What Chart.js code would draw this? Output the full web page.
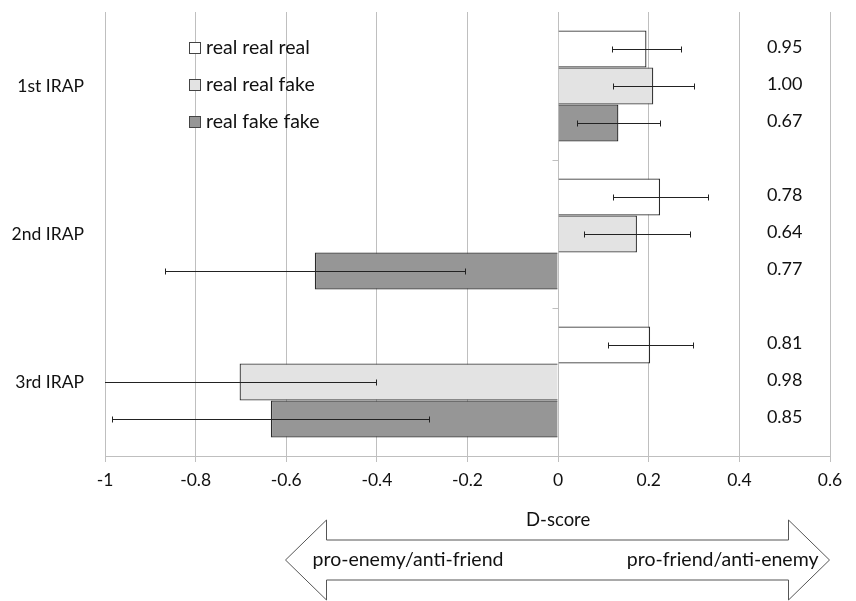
<!DOCTYPE html>
<html>
<head>
<meta charset="utf-8">
<script src="https://cdn.jsdelivr.net/npm/chart.js@4"></script>
<style>
  html, body { margin: 0; padding: 0; background: #fff; }
</style>
</head>
<body>
<canvas id="myChart" width="856" height="601"></canvas>
<script>
// categories and series
const categories = ["1st IRAP", "2nd IRAP", "3rd IRAP"];
const seriesNames = ["real real real", "real real fake", "real fake fake"];

// mean D-scores per IRAP
const realRealReal = [0.195, 0.225, 0.203];
const realRealFake = [0.21, 0.174, -0.703];
const realFakeFake = [0.133, -0.537, -0.634];

// error bar half widths
const errRealRealReal = [0.077, 0.105, 0.094];
const errRealRealFake = [0.089, 0.116, 0.3];
const errRealFakeFake = [0.092, 0.331, 0.35];

// values printed at the right, one per bar
const reliabilities = [
  ["0.95", "0.78", "0.81"],
  ["1.00", "0.64", "0.98"],
  ["0.67", "0.77", "0.85"],
];

const xTicks = [-1, -0.8, -0.6, -0.4, -0.2, 0, 0.2, 0.4, 0.6];
const axisTitle = "D-score";
const arrowLeftText = "pro-enemy/anti-friend";
const arrowRightText = "pro-friend/anti-enemy";

const FONT = "Lato";
const TEXT = "#111";

const extrasPlugin = {
  id: "extras",
  afterDatasetsDraw(chart) {
    const ctx = chart.ctx;
    const xs = chart.scales.x;
    const ys = chart.scales.y;
    const area = chart.chartArea;

    // error bars, clipped to the plot
    ctx.save();
    ctx.beginPath();
    ctx.rect(area.left, area.top, area.right - area.left, area.bottom - area.top);
    ctx.clip();
    ctx.strokeStyle = "#222";
    ctx.lineWidth = 1;
    chart.data.datasets.forEach((ds, i) => {
      const meta = chart.getDatasetMeta(i);
      meta.data.forEach((bar, j) => {
        const v = ds.data[j];
        const e = ds.errors[j];
        const x1 = Math.round(xs.getPixelForValue(v - e)) + 0.5;
        const x2 = Math.round(xs.getPixelForValue(v + e)) + 0.5;
        const y = Math.round(bar.y) + 0.5;
        ctx.beginPath();
        ctx.moveTo(x1, y);
        ctx.lineTo(x2, y);
        ctx.moveTo(x1, y - 3);
        ctx.lineTo(x1, y + 3);
        ctx.moveTo(x2, y - 3);
        ctx.lineTo(x2, y + 3);
        ctx.stroke();
      });
    });
    ctx.restore();

    // little category ticks on the zero line
    ctx.save();
    ctx.strokeStyle = "#bfbfbf";
    ctx.lineWidth = 1;
    const x0 = Math.round(xs.getPixelForValue(0)) + 0.5;
    for (let k = 1; k < categories.length; k++) {
      const yb = Math.round((ys.getPixelForValue(k - 1) + ys.getPixelForValue(k)) / 2) + 0.5;
      ctx.beginPath();
      ctx.moveTo(x0 - 6, yb);
      ctx.lineTo(x0, yb);
      ctx.stroke();
    }
    ctx.restore();

    // values at the right
    ctx.save();
    ctx.font = "18px " + FONT;
    ctx.fillStyle = TEXT;
    ctx.textAlign = "center";
    ctx.textBaseline = "middle";
    const xr = xs.getPixelForValue(0.5);
    chart.data.datasets.forEach((ds, i) => {
      const meta = chart.getDatasetMeta(i);
      meta.data.forEach((bar, j) => {
        ctx.fillText(reliabilities[i][j], xr, bar.y - 2);
      });
    });
    ctx.restore();

    // legend inside the plot
    ctx.save();
    ctx.font = "19.5px " + FONT;
    ctx.textBaseline = "middle";
    chart.data.datasets.forEach((ds, i) => {
      const ly = 48 + i * 37;
      ctx.fillStyle = ds.backgroundColor;
      ctx.fillRect(189.5, ly - 5.5, 11, 11);
      ctx.strokeStyle = "#444";
      ctx.lineWidth = 1;
      ctx.strokeRect(189.5, ly - 5.5, 11, 11);
      ctx.fillStyle = TEXT;
      ctx.textAlign = "left";
      ctx.fillText(ds.label, 206, ly);
    });
    ctx.restore();
  },
  afterDraw(chart) {
    const ctx = chart.ctx;
    const xs = chart.scales.x;

    // axis title
    ctx.save();
    ctx.font = "18.5px " + FONT;
    ctx.fillStyle = TEXT;
    ctx.textAlign = "center";
    ctx.textBaseline = "middle";
    ctx.fillText(axisTitle, xs.getPixelForValue(0), 520);

    // double arrow
    const l = Math.round(xs.getPixelForValue(-0.6)) - 0.5;
    const r = Math.round(xs.getPixelForValue(0.6)) - 0.5;
    const cy = 560, body = 20, head = 40, hl = 41;
    ctx.beginPath();
    ctx.moveTo(l, cy);
    ctx.lineTo(l + hl, cy - head);
    ctx.lineTo(l + hl, cy - body);
    ctx.lineTo(r - hl, cy - body);
    ctx.lineTo(r - hl, cy - head);
    ctx.lineTo(r, cy);
    ctx.lineTo(r - hl, cy + head);
    ctx.lineTo(r - hl, cy + body);
    ctx.lineTo(l + hl, cy + body);
    ctx.lineTo(l + hl, cy + head);
    ctx.closePath();
    ctx.fillStyle = "#fff";
    ctx.fill();
    ctx.strokeStyle = "#555";
    ctx.lineWidth = 1;
    ctx.stroke();

    ctx.font = "19.5px " + FONT;
    ctx.fillStyle = TEXT;
    ctx.textAlign = "left";
    ctx.fillText(arrowLeftText, l + 27, cy);
    ctx.textAlign = "right";
    ctx.fillText(arrowRightText, r - 11, cy);
    ctx.restore();
  },
};

const ctx = document.getElementById("myChart");

new Chart(ctx, {
  type: "bar",
  data: {
    labels: categories,
    datasets: [
      {
        label: seriesNames[0],
        data: realRealReal,
        errors: errRealRealReal,
        backgroundColor: "#ffffff",
        borderColor: "#2b2b2b",
        borderWidth: 1.3,
      },
      {
        label: seriesNames[1],
        data: realRealFake,
        errors: errRealRealFake,
        backgroundColor: "#e3e3e3",
        borderColor: "#3a3a3a",
        borderWidth: 1.3,
      },
      {
        label: seriesNames[2],
        data: realFakeFake,
        errors: errRealFakeFake,
        backgroundColor: "#969696",
        borderColor: "#2b2b2b",
        borderWidth: 1.3,
      },
    ],
  },
  options: {
    indexAxis: "y",
    responsive: false,
    animation: false,
    layout: { padding: { top: 12, right: 26, left: 0, bottom: 0 } },
    datasets: { bar: { categoryPercentage: 0.75, barPercentage: 1 } },
    plugins: {
      legend: { display: false },
      tooltip: { enabled: false },
    },
    scales: {
      x: {
        min: xTicks[0],
        max: xTicks[xTicks.length - 1],
        afterBuildTicks: (scale) => {
          scale.ticks = xTicks.map((v) => ({ value: v }));
        },
        ticks: {
          callback: (v) => String(Math.round(v * 10) / 10),
          font: { family: FONT, size: 17.5 },
          color: TEXT,
          padding: 8,
          maxRotation: 0,
        },
        grid: { color: "#bfbfbf", tickLength: 6 },
        border: { color: "#bfbfbf" },
        afterFit: (s) => {
          s.height = 145;
        },
      },
      y: {
        grid: { display: false, drawTicks: false },
        border: { display: false },
        ticks: {
          padding: 21,
          font: { family: FONT, size: 17.5 },
          color: TEXT,
        },
        afterFit: (s) => {
          s.width = 105;
          s.paddingTop = 0;
          s.paddingBottom = 0;
        },
      },
    },
  },
  plugins: [extrasPlugin],
});
</script>
</body>
</html>
